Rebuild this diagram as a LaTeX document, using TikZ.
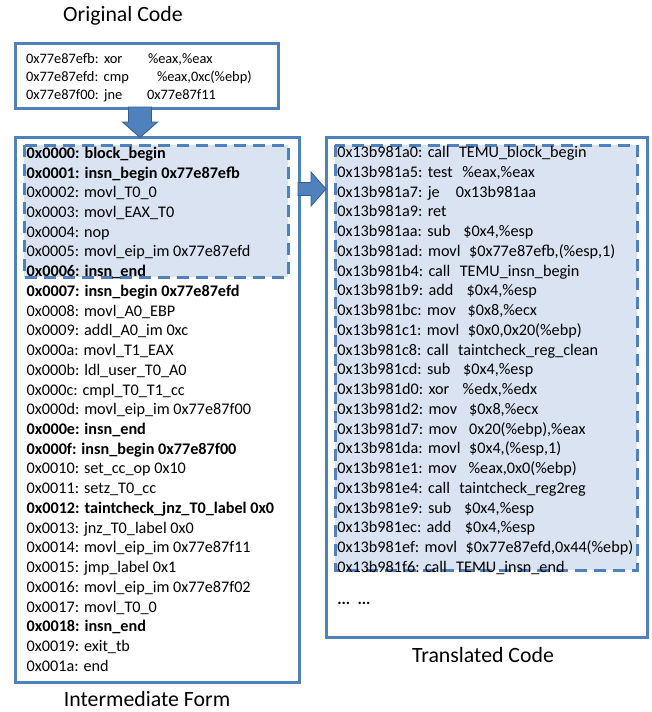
\documentclass[tikz,border=0pt]{standalone}
\usepackage{fontspec}
\setmainfont{Carlito}
\definecolor{boxblue}{RGB}{79,129,189}
\definecolor{arrowedge}{RGB}{56,93,138}
\definecolor{dashfill}{RGB}{217,227,241}
\newcommand\asmline[4]{#1\hspace{0.33em}#2\hspace{#3}#4}
\begin{document}
\begin{tikzpicture}[x=1pt,y=-1pt,
  frame/.style={draw=boxblue,line width=3pt,inner sep=0pt,anchor=north west},
  dashbox/.style={draw=boxblue,line width=3pt,fill=dashfill,dash pattern=on 12pt off 7pt},
  codeline/.style={anchor=base west,inner sep=0pt,outer sep=0pt,font=\fontsize{16.2}{19}\selectfont},
  origline/.style={anchor=base west,inner sep=0pt,outer sep=0pt,font=\fontsize{14.4}{17}\selectfont},
  titletext/.style={anchor=base,inner sep=0pt,outer sep=0pt,font=\fontsize{21.8}{26}\selectfont},
  blockarrow/.style={fill=boxblue,draw=arrowedge,line width=0.8pt,line join=miter}]

\useasboundingbox (0,0) rectangle (651,712);

% frames
\node[frame,minimum width=263pt,minimum height=65pt] (orig) at (14,42) {};
\node[frame,minimum width=284pt,minimum height=545pt] (inter) at (14,136) {};
\node[frame,minimum width=321pt,minimum height=500pt] (trans) at (325,136) {};

% dashed highlighted regions
\draw[dashbox] (24,145) rectangle (288,277);
\draw[dashbox] (335,145) rectangle (637,570);

% titles
\node[titletext] (torig) at (123,21) {Original Code};
\node[titletext] (tinter) at (147,706.5) {Intermediate Form};
\node[titletext] (ttrans) at (483,662) {Translated Code};

% original code
\node[origline] (o0) at (26,63.5) {0x77e87efb:\hspace{0.37em}xor};
\node[origline] (o0b) at (148,63.5) {\%eax,\%eax};
\node[origline] (o1) at (26,81.3) {0x77e87efd:\hspace{0.37em}cmp};
\node[origline] (o1b) at (157,81.3) {\%eax,0xc(\%ebp)};
\node[origline] (o2) at (26,99) {0x77e87f00:\hspace{0.37em}jne};
\node[origline] (o2b) at (147,99) {0x77e87f11};

% intermediate form
\foreach \t [count=\i from 0] in {
  {\textbf{0x0000: block\_begin}},
  {\textbf{0x0001: insn\_begin 0x77e87efb}},
  {0x0002: movl\_T0\_0},
  {0x0003: movl\_EAX\_T0},
  {0x0004: nop},
  {0x0005: movl\_eip\_im 0x77e87efd},
  {\textbf{0x0006: insn\_end}},
  {\textbf{0x0007: insn\_begin 0x77e87efd}},
  {0x0008: movl\_A0\_EBP},
  {0x0009: addl\_A0\_im 0xc},
  {0x000a: movl\_T1\_EAX},
  {0x000b: ldl\_user\_T0\_A0},
  {0x000c: cmpl\_T0\_T1\_cc},
  {0x000d: movl\_eip\_im 0x77e87f00},
  {\textbf{0x000e: insn\_end}},
  {\textbf{0x000f: insn\_begin 0x77e87f00}},
  {0x0010: set\_cc\_op 0x10},
  {0x0011: setz\_T0\_cc},
  {\textbf{0x0012: taintcheck\_jnz\_T0\_label 0x0}},
  {0x0013: jnz\_T0\_label 0x0},
  {0x0014: movl\_eip\_im 0x77e87f11},
  {0x0015: jmp\_label 0x1},
  {0x0016: movl\_eip\_im 0x77e87f02},
  {0x0017: movl\_T0\_0},
  {\textbf{0x0018: insn\_end}},
  {0x0019: exit\_tb},
  {0x001a: end}}
  \node[codeline] (if\i) at (26.7,{158.3+19.73*\i}) {\t};

% translated code
\foreach \t [count=\i from 0] in {
  {\asmline{0x13b981a0:}{call}{0.58em}{TEMU\_block\_begin}},
  {\asmline{0x13b981a5:}{test}{0.6em}{\%eax,\%eax}},
  {\asmline{0x13b981a7:}{je}{1.0em}{0x13b981aa}},
  {\asmline{0x13b981a9:}{ret}{0em}{}},
  {\asmline{0x13b981aa:}{sub}{0.78em}{\$0x4,\%esp}},
  {\asmline{0x13b981ad:}{movl}{0.53em}{\$0x77e87efb,(\%esp,1)}},
  {\asmline{0x13b981b4:}{call}{0.58em}{TEMU\_insn\_begin}},
  {\asmline{0x13b981b9:}{add}{0.83em}{\$0x4,\%esp}},
  {\asmline{0x13b981bc:}{mov}{0.73em}{\$0x8,\%ecx}},
  {\asmline{0x13b981c1:}{movl}{0.53em}{\$0x0,0x20(\%ebp)}},
  {\asmline{0x13b981c8:}{call}{0.58em}{taintcheck\_reg\_clean}},
  {\asmline{0x13b981cd:}{sub}{0.78em}{\$0x4,\%esp}},
  {\asmline{0x13b981d0:}{xor}{0.83em}{\%edx,\%edx}},
  {\asmline{0x13b981d2:}{mov}{0.73em}{\$0x8,\%ecx}},
  {\asmline{0x13b981d7:}{mov}{0.73em}{0x20(\%ebp),\%eax}},
  {\asmline{0x13b981da:}{movl}{0.53em}{\$0x4,(\%esp,1)}},
  {\asmline{0x13b981e1:}{mov}{0.73em}{\%eax,0x0(\%ebp)}},
  {\asmline{0x13b981e4:}{call}{0.58em}{taintcheck\_reg2reg}},
  {\asmline{0x13b981e9:}{sub}{0.78em}{\$0x4,\%esp}},
  {\asmline{0x13b981ec:}{add}{0.83em}{\$0x4,\%esp}},
  {\asmline{0x13b981ef:}{movl}{0.53em}{\$0x77e87efd,0x44(\%ebp)}},
  {\asmline{0x13b981f6:}{call}{0.58em}{TEMU\_insn\_end}}}
  \node[codeline] (tc\i) at (337.3,{157.7+19.75*\i}) {\t};

\node[codeline] (dots) at (337.3,604) {\textbf{...\hspace{0.45em}...}};

% block arrows
\draw[blockarrow] (128.5,107) -- (151.5,107) -- (151.5,122) -- (157.5,122)
  -- (140,137.5) -- (122.5,122) -- (128.5,122) -- cycle;
\draw[blockarrow] (298,182.5) -- (311,182.5) -- (311,172) -- (326,189)
  -- (311,206) -- (311,195.5) -- (298,195.5) -- cycle;
\end{tikzpicture}
\end{document}
